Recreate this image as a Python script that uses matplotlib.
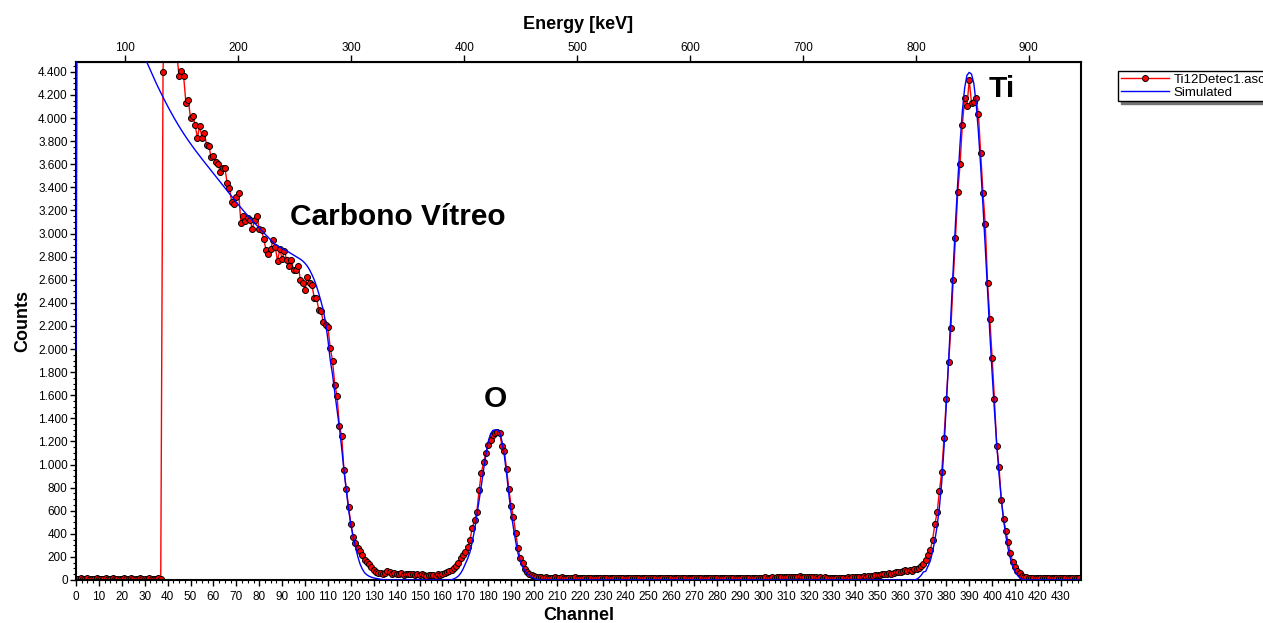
import numpy as np
import matplotlib
matplotlib.use('Agg')
import matplotlib.pyplot as plt
from matplotlib.ticker import MultipleLocator, FuncFormatter
from matplotlib.lines import Line2D

plt.rcParams['font.family'] = ['Liberation Sans', 'DejaVu Sans']

# measured spectrum, one value per channel (ch 0 .. 438)
COUNTS = [
    12, 10, 14, 11, 9, 13, 12, 10, 11, 13,
    12, 9, 11, 14, 10, 12, 13, 11, 10, 12,
    11, 13, 10, 12, 14, 11, 9, 12, 13, 10,
    12, 11, 13, 10, 12, 11, 14, 12, 4400, 5200,
    5000, 4850, 4720, 4640, 4560, 4360, 4410, 4360, 4130, 4160,
    4000, 4020, 3940, 3830, 3930, 3830, 3870, 3770, 3760, 3660,
    3670, 3620, 3600, 3530, 3570, 3565, 3440, 3395, 3270, 3255,
    3320, 3355, 3095, 3150, 3105, 3130, 3115, 3040, 3120, 3150,
    3035, 3030, 2950, 2855, 2825, 2865, 2940, 2885, 2760, 2865,
    2780, 2850, 2770, 2715, 2770, 2685, 2685, 2715, 2600, 2570,
    2510, 2620, 2575, 2555, 2445, 2440, 2340, 2330, 2230, 2210,
    2190, 2010, 1900, 1690, 1590, 1330, 1250, 950, 790, 635,
    485, 370, 320, 275, 255, 215, 175, 155, 140, 112,
    90, 70, 62, 62, 55, 60, 75, 65, 55, 60,
    48, 52, 58, 45, 55, 50, 48, 55, 45, 52,
    40, 48, 42, 38, 45, 40, 45, 35, 50, 45,
    52, 60, 72, 75, 88, 100, 118, 150, 188, 215,
    245, 290, 346, 450, 519, 586, 779, 929, 1024, 1097,
    1169, 1212, 1255, 1276, 1284, 1270, 1160, 1120, 958, 785,
    641, 543, 404, 274, 188, 144, 95, 66, 50, 43,
    35, 29, 25, 22, 20, 24, 18, 21, 19, 23,
    20, 17, 22, 18, 21, 19, 16, 20, 22, 18,
    17, 19, 21, 16, 18, 20, 17, 15, 19, 21,
    18, 16, 20, 17, 19, 15, 18, 21, 16, 17,
    19, 16, 18, 20, 15, 17, 19, 16, 18, 14,
    17, 19, 15, 18, 16, 14, 17, 19, 15, 16,
    18, 15, 17, 14, 16, 18, 15, 17, 13, 16,
    15, 17, 14, 16, 18, 15, 13, 16, 17, 14,
    16, 14, 17, 15, 13, 16, 18, 15, 14, 17,
    16, 18, 15, 19, 17, 16, 20, 18, 17, 21,
    19, 22, 18, 21, 24, 20, 23, 26, 22, 25,
    28, 24, 27, 30, 26, 29, 31, 27, 25, 28,
    24, 27, 22, 25, 21, 23, 20, 22, 19, 21,
    18, 20, 17, 19, 21, 18, 20, 22, 19, 23,
    25, 28, 27, 30, 32, 30, 35, 38, 36, 40,
    42, 45, 48, 52, 50, 58, 55, 62, 65, 70,
    72, 78, 85, 80, 88, 82, 92, 95, 100, 118,
    140, 175, 220, 262, 346, 485, 586, 774, 938, 1232,
    1567, 1885, 2180, 2600, 2965, 3360, 3600, 3940, 4170, 4100,
    4330, 4130, 4140, 4170, 4035, 3700, 3355, 3080, 2575, 2260,
    1925, 1567, 1163, 981, 693, 528, 424, 332, 231, 159,
    115, 80, 60, 35, 28, 22, 18, 20, 17, 19,
    16, 18, 15, 17, 19, 14, 16, 18, 15, 17,
    14, 16, 13, 15, 17, 14, 16, 13, 15,
]

# simulated spectrum (ch 0 .. 438)
SIMULATED = [
    1990, 8200, 7900, 7650, 7400, 7180, 6980, 6790, 6610, 6440,
    6280, 6130, 5990, 5860, 5740, 5630, 5520, 5420, 5330, 5240,
    5160, 5080, 5000, 4930, 4860, 4790, 4730, 4670, 4610, 4570,
    4530, 4480, 4435, 4390, 4345, 4302, 4260, 4220, 4180, 4141,
    4103, 4066, 4030, 3995, 3961, 3928, 3896, 3865, 3835, 3806,
    3778, 3750, 3723, 3697, 3671, 3645, 3620, 3595, 3570, 3545,
    3520, 3495, 3470, 3445, 3420, 3395, 3370, 3345, 3320, 3295,
    3271, 3247, 3223, 3200, 3177, 3155, 3133, 3111, 3090, 3069,
    3048, 3027, 3006, 2985, 2964, 2944, 2924, 2905, 2895, 2882,
    2870, 2860, 2850, 2838, 2826, 2814, 2802, 2790, 2777, 2762,
    2742, 2718, 2685, 2645, 2600, 2545, 2480, 2410, 2335, 2225,
    2080, 1905, 1780, 1620, 1470, 1320, 1140, 950, 780, 610,
    480, 380, 290, 205, 140, 95, 63, 45, 32, 24,
    18, 14, 10, 6, 3, 0, 0, 0, 0, 0,
    0, 0, 0, 0, 0, 0, 0, 0, 0, 0,
    0, 0, 0, 0, 0, 0, 0, 0, 0, 0,
    0, 0, 0, 0, 3, 10, 20, 35, 60, 95,
    140, 185, 240, 330, 430, 560, 690, 820, 960, 1090,
    1200, 1265, 1295, 1300, 1300, 1280, 1200, 1080, 920, 740,
    580, 450, 330, 230, 160, 115, 80, 55, 38, 25,
    14, 6, 0, 0, 0, 0, 0, 0, 0, 0,
    0, 0, 0, 0, 0, 0, 0, 0, 0, 0,
    0, 0, 0, 0, 0, 0, 0, 0, 0, 0,
    0, 0, 0, 0, 0, 0, 0, 0, 0, 0,
    0, 0, 0, 0, 0, 0, 0, 0, 0, 0,
    0, 0, 0, 0, 0, 0, 0, 0, 0, 0,
    0, 0, 0, 0, 0, 0, 0, 0, 0, 0,
    0, 0, 0, 0, 0, 0, 0, 0, 0, 0,
    0, 0, 0, 0, 0, 0, 0, 0, 0, 0,
    0, 0, 0, 0, 0, 0, 0, 0, 0, 0,
    0, 0, 0, 0, 0, 0, 0, 0, 0, 0,
    0, 0, 0, 0, 0, 0, 0, 0, 0, 0,
    0, 0, 0, 0, 0, 0, 0, 0, 0, 0,
    0, 0, 0, 0, 0, 0, 0, 0, 0, 0,
    0, 0, 0, 0, 0, 0, 0, 0, 0, 0,
    0, 0, 0, 0, 0, 0, 0, 0, 0, 0,
    0, 0, 0, 0, 0, 0, 0, 6, 20, 40,
    70, 75, 120, 165, 245, 345, 470, 635, 850, 1150,
    1520, 1900, 2300, 2700, 3090, 3450, 3780, 4060, 4260, 4370,
    4395, 4380, 4300, 4130, 3880, 3580, 3240, 2880, 2500, 2130,
    1790, 1470, 1180, 920, 700, 520, 380, 270, 185, 120,
    75, 42, 20, 6, 0, 0, 0, 0, 0, 0,
    0, 0, 0, 0, 0, 0, 0, 0, 0, 0,
    0, 0, 0, 0, 0, 0, 0, 0, 0,
]

ENERGY_TICKS = [100, 200, 300, 400, 500, 600, 700, 800, 900]
PEAKS = [("Carbono Vítreo", 93.5, 3145, 'left'),
         ("O", 183, 1570, 'center'),
         ("Ti", 398.5, 4250, 'left')]

# energy calibration of the top axis (keV = offset + gain * channel)
E0, GAIN = 56.3, 2.028

ch = np.arange(len(COUNTS))

fig = plt.figure(figsize=(12.63, 6.23), dpi=100)
W, H = 1263, 623
ax = fig.add_axes([76 / W, (H - 580) / H, (1081 - 76) / W, (580 - 62) / H])

ax.plot(ch, COUNTS, color='red', lw=1.0, marker='o', ms=4.3,
        mfc='red', mec='black', mew=0.7, zorder=2)
ax.plot(ch, SIMULATED, color='blue', lw=1.0, zorder=3)

ax.set_xlim(0, 438.8)
ax.set_ylim(0, 4485)

ax.xaxis.set_major_locator(MultipleLocator(10))
ax.xaxis.set_minor_locator(MultipleLocator(2.5))
ax.yaxis.set_major_locator(MultipleLocator(200))
ax.yaxis.set_minor_locator(MultipleLocator(50))
ax.yaxis.set_major_formatter(FuncFormatter(lambda v, p: f"{v:,.0f}".replace(',', '.')))
ax.tick_params(which='major', length=4, width=1, labelsize=8.5, pad=2)
ax.tick_params(axis='x', which='major', pad=4)
ax.tick_params(which='minor', length=2, width=0.8)
for s in ax.spines.values():
    s.set_linewidth(1.5)

ax.set_xlabel('Channel', fontsize=13, fontweight='bold', labelpad=3)
ax.set_ylabel('Counts', fontsize=13, fontweight='bold', labelpad=5)

top = ax.secondary_xaxis('top', functions=(lambda c: E0 + GAIN * c,
                                           lambda e: (e - E0) / GAIN))
top.set_xticks(ENERGY_TICKS)
top.tick_params(length=5, width=1, labelsize=8.5, pad=1)
top.set_xlabel('Energy [keV]', fontsize=13, fontweight='bold', labelpad=9)

for txt, x, y, ha in PEAKS:
    ax.text(x, y, txt, fontsize=21.5, fontweight='bold', ha=ha, va='center')

handles = [Line2D([], [], color='red', lw=1, marker='o', ms=4.3, mfc='red', mec='black', mew=0.7),
           Line2D([], [], color='blue', lw=1)]
fig.legend(handles, ['Ti12Detec1.asc', 'Simulated'], loc='upper left',
           bbox_to_anchor=(1118 / W, 1 - 71 / H), fontsize=9.5, frameon=True,
           fancybox=False, shadow={'color': '0.45', 'alpha': 1},
           edgecolor='black', framealpha=1,
           handlelength=3.7, handletextpad=0.3, borderpad=0.2, labelspacing=0.05,
           borderaxespad=0)

fig.savefig('out.png', dpi=100)
